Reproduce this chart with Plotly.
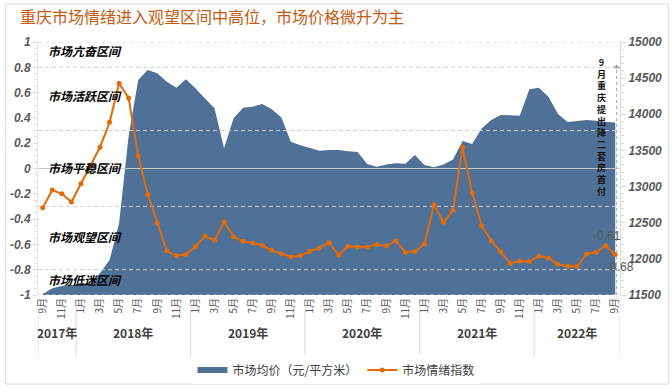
import plotly.graph_objects as go
import pandas as pd

# ---------------- data ----------------
months = pd.period_range("2017-09", "2022-09", freq="M")
month_labels = [f"{p.month}月" for p in months]
years = [p.year for p in months]

price = [11514, 11593, 11624, 11638, 11652, 11670, 11800, 11984, 12491, 13700,
         14473, 14612, 14566, 14450, 14367, 14483, 14359, 14220, 14082, 13529,
         13944, 14090, 14105, 14142, 14068, 13958, 13620, 13570, 13533, 13496,
         13505, 13505, 13487, 13477, 13312, 13274, 13307, 13321, 13316, 13436,
         13298, 13266, 13307, 13376, 13630, 13588, 13805, 13920, 13989, 13985,
         13980, 14345, 14367, 14243, 14003, 13892, 13906, 13920, 13911, 13892,
         13888]

sentiment = [-0.31, -0.17, -0.20, -0.265, -0.12, 0.02, 0.168, 0.365, 0.673, 0.557,
             0.10, -0.204, -0.43, -0.65, -0.69, -0.68, -0.618, -0.534, -0.568, -0.42,
             -0.54, -0.576, -0.589, -0.607, -0.647, -0.673, -0.697, -0.69, -0.655, -0.628,
             -0.584, -0.684, -0.615, -0.62, -0.62, -0.60, -0.613, -0.571, -0.663, -0.657,
             -0.597, -0.286, -0.425, -0.33, 0.168, -0.194, -0.452, -0.571, -0.66, -0.75,
             -0.731, -0.736, -0.692, -0.707, -0.757, -0.773, -0.773, -0.676, -0.663, -0.61,
             -0.68]

zone_dashed = [1, 0.8, 0.3, -0.3, -0.8, -1]
zone_solid = [0]
zone_names = ["市场亢奋区间", "市场活跃区间", "市场平稳区间", "市场观望区间", "市场低迷区间"]
zone_label_y = [0.935, 0.58, 0.01, -0.535, -0.88]

left_ticks = [-1, -0.8, -0.6, -0.4, -0.2, 0, 0.2, 0.4, 0.6, 0.8, 1]
right_ticks = [11500, 12000, 12500, 13000, 13500, 14000, 14500, 15000]

title_text = "重庆市场情绪进入观望区间中高位，市场价格微升为主"
note_text = "9月重庆提出降二套房首付"
name_price = "市场均价（元/平方米）"
name_sent = "市场情绪指数"

# ---------------- figure ----------------
x = list(range(len(months)))
xr = [-0.5, len(months) - 0.5]
BLUE = "#4F7097"
ORANGE = "#E26B0A"
GRAY = "#595959"

fig = go.Figure()

fig.add_trace(go.Scatter(
    x=x, y=price, name=name_price, mode="none", fill="tozeroy",
    fillcolor=BLUE, yaxis="y", hoverinfo="skip"))

for v in zone_dashed:
    fig.add_trace(go.Scatter(
        x=xr, y=[v, v], mode="lines", yaxis="y2", showlegend=False,
        line=dict(color="#CFCFCF", width=1, dash="4px,3px"), hoverinfo="skip"))
for v in zone_solid:
    fig.add_trace(go.Scatter(
        x=xr, y=[v, v], mode="lines", yaxis="y2", showlegend=False,
        line=dict(color="#C8C8C8", width=1), hoverinfo="skip"))

fig.add_trace(go.Scatter(
    x=x, y=sentiment, name=name_sent, mode="lines+markers", yaxis="y2",
    line=dict(color=ORANGE, width=2), marker=dict(color=ORANGE, size=5)))

annotations = []
for name, yy in zip(zone_names, zone_label_y):
    annotations.append(dict(
        text=name, x=0.014, xref="paper", y=yy, yref="y2", xanchor="left",
        yanchor="middle", showarrow=False,
        font=dict(family="Noto Sans CJK SC", size=12, color="#000000",
                  style="italic", weight="bold")))

# year group labels and separators
shapes = []
year_list = sorted(set(years))
for yv in year_list:
    idx = [i for i, yy in enumerate(years) if yy == yv]
    annotations.append(dict(
        text=f"{yv}年", x=(idx[0] + idx[-1]) / 2, xref="x", y=-0.19, yref="paper",
        showarrow=False, font=dict(family="Noto Sans CJK SC", size=12, color="#404040",
                                   weight="bold")))
    shapes.append(dict(type="line", xref="x", yref="paper", x0=idx[0] - 0.5,
                       x1=idx[0] - 0.5, y0=-0.03, y1=-0.245,
                       line=dict(color="#D9D9D9", width=1)))
shapes.append(dict(type="line", xref="x", yref="paper", x0=xr[1], x1=xr[1],
                   y0=-0.03, y1=-0.245, line=dict(color="#D9D9D9", width=1)))

# data labels for the last two points
annotations.append(dict(text=f"{sentiment[-2]:.2f}", x=x[-2], y=sentiment[-2],
                        xref="x", yref="y2", xshift=1, yshift=10, showarrow=False,
                        font=dict(family="Liberation Sans", size=12, color=GRAY)))
annotations.append(dict(text=f"{sentiment[-1]:.2f}", x=x[-1], y=sentiment[-1],
                        xref="x", yref="y2", xshift=5, yshift=-12, showarrow=False,
                        font=dict(family="Liberation Sans", size=12, color=GRAY)))

# policy note (vertical text) with dotted arrow
annotations.append(dict(text="<br>".join(list(note_text)), x=x[-1] - 1.45, y=0.905,
                        xref="x", yref="y2", yanchor="top", showarrow=False,
                        font=dict(family="Noto Sans CJK SC", size=9, color="#111111",
                                  weight="bold")))
shapes.append(dict(type="line", xref="x", yref="y2", x0=x[-1] + 0.15, x1=x[-1] + 0.15,
                   y0=-1, y1=0.82, line=dict(color="#A6A6A6", width=1, dash="dot")))
annotations.append(dict(text="", x=x[-1] + 0.15, y=0.82, xref="x", yref="y2",
                        ax=0, ay=6, showarrow=True, arrowhead=1, arrowsize=1.2,
                        arrowwidth=1, arrowcolor="#A6A6A6"))

# chart border
shapes.append(dict(type="rect", xref="paper", yref="paper", x0=-0.0554, x1=1.0829,
                   y0=-0.352, y1=1.150, line=dict(color="#D9D9D9", width=1),
                   layer="below"))

tick_font = dict(family="Liberation Sans", size=12, color=GRAY, style="italic",
                 weight="bold")

fig.update_layout(
    width=672, height=389,
    margin=dict(l=38, r=52, t=42, b=94, autoexpand=False),
    paper_bgcolor="white", plot_bgcolor="white",
    title=dict(text=title_text, x=20 / 672, xanchor="left", y=0.955, yanchor="middle",
               font=dict(family="Noto Sans CJK SC", size=16, color="#C55A11")),
    xaxis=dict(range=xr, tickmode="array", automargin=False,
               tickvals=[i for i in x if months[i].month % 2 == 1],
               ticktext=[month_labels[i] for i in x if months[i].month % 2 == 1],
               tickangle=-90, tickfont=dict(family="Noto Sans CJK SC", size=10,
                                            color=GRAY),
               showgrid=False, zeroline=False, showline=False, ticks=""),
    yaxis=dict(range=[right_ticks[0], right_ticks[-1]], side="right", automargin=False,
               tickmode="array", tickvals=right_ticks,
               ticktext=[str(v) for v in right_ticks], tickfont=tick_font,
               showgrid=False, zeroline=False, showline=True, linecolor="#D9D9D9",
               ticks="outside", ticklen=5, tickcolor="#D9D9D9",
               minor=dict(ticks="outside", ticklen=3, tickcolor="#D9D9D9", dtick=100)),
    yaxis2=dict(range=[-1, 1], overlaying="y", side="left", tickmode="array",
                automargin=False,
                tickvals=left_ticks, ticktext=[f"{v:g}" for v in left_ticks],
                tickfont=tick_font, showgrid=False, zeroline=False,
                showline=True, linecolor="#E6E6E6", ticks="outside", ticklen=4,
                tickcolor="#D9D9D9",
                minor=dict(ticks="outside", ticklen=3, tickcolor="#E0E0E0",
                           dtick=0.05)),
    legend=dict(orientation="h", x=0.512, xanchor="center", y=-0.296,
                yanchor="middle", font=dict(family="Noto Sans CJK SC", size=12,
                                            color="#404040"),
                itemwidth=30, tracegroupgap=0),
    annotations=annotations, shapes=shapes, showlegend=True,
)

fig.write_html("out.html", config={"displayModeBar": False},
               post_script="document.body.style.margin='0';")
